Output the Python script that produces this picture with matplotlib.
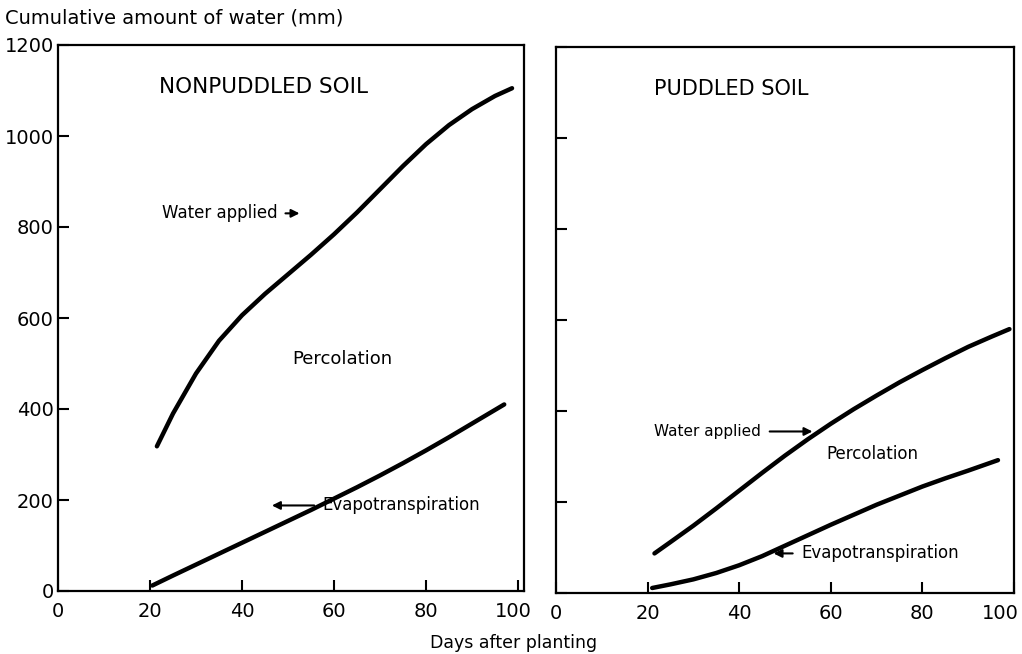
import numpy as np
import matplotlib.pyplot as plt
from matplotlib.transforms import ScaledTranslation

# Nonpuddled soil (days after planting, cumulative mm)
np_water_days = [21.5, 25, 30, 35, 40, 45, 50, 55, 60, 65, 70, 75, 80, 85, 90, 95, 98.7]
np_water_mm = [318, 390, 478, 550, 606, 653, 696, 739, 784, 832, 883, 934, 982, 1024, 1059, 1088, 1105]
np_et_days = [20.5, 25, 30, 35, 40, 45, 50, 55, 60, 65, 70, 75, 80, 85, 90, 97]
np_et_mm = [12, 34, 58, 82, 106, 130, 154, 178, 203, 228, 254, 281, 309, 338, 368, 410]

# Puddled soil
p_water_days = [21.5, 25, 30, 35, 40, 45, 50, 55, 60, 65, 70, 75, 80, 85, 90, 95, 99]
p_water_mm = [87, 112, 148, 186, 225, 264, 302, 338, 372, 404, 434, 463, 490, 516, 541, 563, 580]
p_et_days = [21, 25, 30, 35, 40, 45, 50, 55, 60, 65, 70, 75, 80, 85, 90, 96.5]
p_et_mm = [11, 19, 30, 44, 61, 81, 104, 127, 150, 172, 194, 214, 234, 252, 269, 292]

x_ticks = [0, 20, 40, 60, 80, 100]
y_ticks = [0, 200, 400, 600, 800, 1000, 1200]

plt.rcParams['font.family'] = 'DejaVu Sans'
fig = plt.figure(figsize=(10.22, 6.54), dpi=100)

ax1 = fig.add_axes([58 / 1022, 63 / 654, 466 / 1022, 546 / 654])
ax2 = fig.add_axes([556 / 1022, 61 / 654, 458 / 1022, 546 / 654])

for ax, xmax in ((ax1, 101.3), (ax2, 99.6)):
    ax.set_xlim(0, xmax)
    ax.set_ylim(0, 1200)
    ax.set_xticks(x_ticks)
    ax.set_yticks(y_ticks)
    ax.tick_params(direction='in', length=8, width=1.5, labelsize=14,
                   top=False, right=False)
    ax.tick_params(axis='x', pad=8)
    ax.tick_params(axis='y', pad=3)
    for s in ax.spines.values():
        s.set_linewidth(1.6)

ax2.set_yticklabels([])

# pull the last "100" labels in a little so they stay inside the figure
for ax, dx in ((ax1, -5), (ax2, -14)):
    lab = ax.get_xticklabels()[-1]
    lab.set_transform(lab.get_transform() + ScaledTranslation(dx / 100, 0, fig.dpi_scale_trans))

# curves
ax1.plot(np_water_days, np_water_mm, color='black', lw=3.2, solid_capstyle='round')
ax1.plot(np_et_days, np_et_mm, color='black', lw=3.2, solid_capstyle='round')
ax2.plot(p_water_days, p_water_mm, color='black', lw=3.2, solid_capstyle='round')
ax2.plot(p_et_days, p_et_mm, color='black', lw=3.2, solid_capstyle='round')

# panel titles
ax1.text(22, 1108, 'NONPUDDLED SOIL', fontsize=15.5, va='center')
ax2.text(21.5, 1108, 'PUDDLED SOIL', fontsize=15, va='center')

arrow = dict(arrowstyle='-|>', color='black', lw=1.5, mutation_scale=12,
             shrinkA=4, shrinkB=0)

# left panel labels
ax1.annotate('Water applied', xy=(52.5, 830), xytext=(22.5, 830),
             fontsize=12, va='center', arrowprops=arrow)
ax1.text(51, 510, 'Percolation', fontsize=13, va='center')
ax1.annotate('Evapotranspiration', xy=(46.5, 188), xytext=(57.5, 188),
             fontsize=12, va='center', arrowprops=arrow)

# right panel labels
ax2.annotate('Water applied', xy=(56, 355), xytext=(21.5, 355),
             fontsize=11, va='center', arrowprops=arrow)
ax2.text(59, 305, 'Percolation', fontsize=12, va='center')
ax2.annotate('Evapotranspiration', xy=(47.5, 87), xytext=(53.5, 87),
             fontsize=12, va='center', arrowprops=arrow)

fig.text(5 / 1022, 1 - 18 / 654, 'Cumulative amount of water (mm)', fontsize=14, va='center')
fig.text(514 / 1022, 1 - 643 / 654, 'Days after planting', fontsize=12.5, ha='center', va='center')

fig.savefig('out.png', dpi=100)
